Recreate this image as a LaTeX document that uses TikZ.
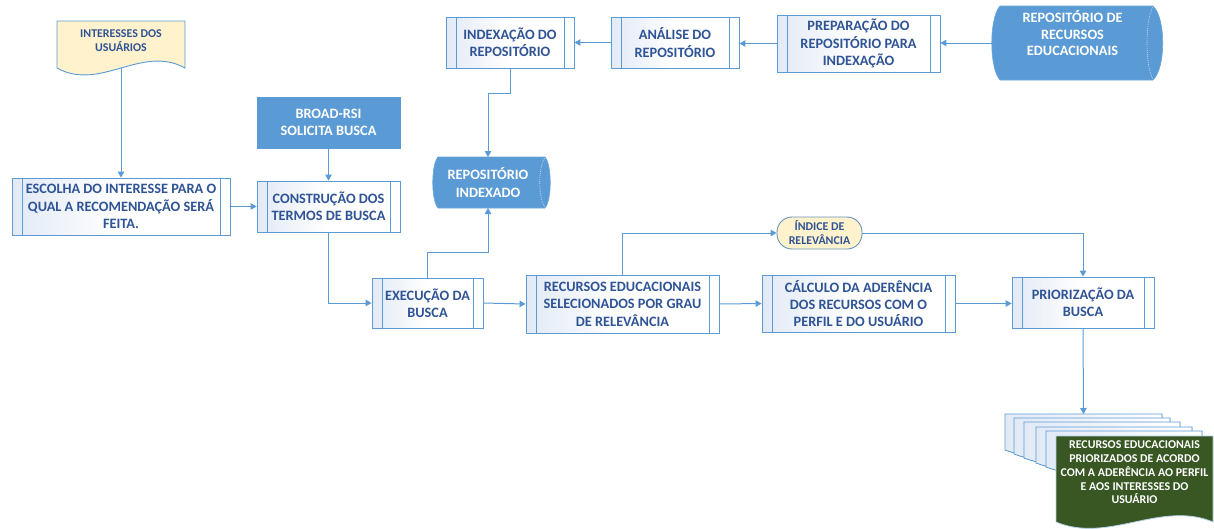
\documentclass[tikz,border=0pt]{standalone}
\usepackage{fontspec}
\setmainfont{Carlito}
\usetikzlibrary{arrows.meta}
\definecolor{bline}{RGB}{91,155,213}
\definecolor{tblue}{RGB}{47,84,150}
\definecolor{sblue}{RGB}{91,155,213}
\definecolor{pyellow}{RGB}{255,242,204}
\definecolor{dgreen}{RGB}{56,87,35}
\definecolor{tint}{RGB}{226,234,246}
\tikzset{
  bigtxt/.style={font=\fontsize{14.3}{17.4}\selectfont\bfseries, align=center},
  smalltxt/.style={font=\fontsize{11.9}{14}\selectfont\bfseries, align=center},
  proc/.style={bigtxt, text=tblue, draw=bline, line width=0.9pt,
    left color=tint, right color=white, middle color=white,
    inner sep=0pt,
    path picture={\draw[bline, line width=0.8pt]
      ([xshift=10pt]path picture bounding box.north west) -- ([xshift=10pt]path picture bounding box.south west)
      ([xshift=-10pt]path picture bounding box.north east) -- ([xshift=-10pt]path picture bounding box.south east);}},
  ghost/.style={inner sep=0pt, outer sep=0pt},
  conn/.style={draw=bline, line width=1pt, -{Triangle[length=6pt,width=6.5pt]}},
  docback/.style={draw=bline, line width=0.8pt, left color=tint, right color=white},
  cylfill/.style={fill=sblue, draw=sblue!90!white, line width=0.6pt},
  cylinner/.style={draw=white!65!sblue, line width=0.6pt, dash pattern=on 1pt off 1pt}
}
\begin{document}
\begin{tikzpicture}[x=1pt,y=-1pt]
\useasboundingbox (0,0) rectangle (1214,528);
\clip (0,0) rectangle (1214,528);

% Interesses dos usuarios (document)
\filldraw[fill=pyellow, draw=bline, line width=0.9pt] (57,21) -- (185,21) -- (185,68) .. controls (142,44) and (100,92) .. (57,68) -- cycle;
\node[ghost, minimum width=128pt, minimum height=47pt] (int) at (121,44.5) {};
\node[smalltxt, text=tblue] (intt) at (121,41) {INTERESSES DOS\\USUÁRIOS};

% process boxes
\node[proc, minimum width=218pt, minimum height=57pt] (esc) at (121,206.5) {ESCOLHA DO INTERESSE PARA O\\QUAL A RECOMENDAÇÃO SERÁ\\FEITA.};
\node[bigtxt, text=white, fill=sblue, draw=sblue, minimum width=143pt, minimum height=51pt, inner sep=0pt] (broad) at (328.5,122.5) {BROAD-RSI\\SOLICITA BUSCA};
\node[proc, minimum width=143pt, minimum height=51pt] (constr) at (328.5,206.5) {CONSTRUÇÃO DOS\\TERMOS DE BUSCA};
\node[proc, minimum width=111pt, minimum height=50pt] (exe) at (427.5,303) {EXECUÇÃO DA\\BUSCA};
\node[proc, minimum width=128pt, minimum height=51pt] (idx) at (510,42.5) {INDEXAÇÃO DO\\REPOSITÓRIO};
\node[proc, minimum width=128pt, minimum height=51pt] (ana) at (675,42.5) {ANÁLISE DO\\REPOSITÓRIO};
\node[proc, minimum width=163pt, minimum height=57pt] (prep) at (858.5,43.5) {PREPARAÇÃO DO\\REPOSITÓRIO PARA\\INDEXAÇÃO};
\node[proc, minimum width=193pt, minimum height=58pt] (rec) at (622.5,304) {RECURSOS EDUCACIONAIS\\SELECIONADOS POR GRAU\\DE RELEVÂNCIA};
\node[proc, minimum width=193pt, minimum height=57pt] (calc) at (858.5,303.5) {CÁLCULO DA ADERÊNCIA\\DOS RECURSOS COM O\\PERFIL E DO USUÁRIO};
\node[proc, minimum width=142pt, minimum height=51pt] (pri) at (1083,302.5) {PRIORIZAÇÃO DA\\BUSCA};

% Repositorio indexado (cylinder)
\path[cylfill] (438,157) -- (545,157) .. controls (552,165) and (552,200) .. (545,208) -- (438,208) .. controls (431,200) and (431,165) .. (438,157) -- cycle;
\draw[cylinner] (545,158) .. controls (538,166) and (538,199) .. (545,207);
\node[bigtxt, text=white, ghost, minimum width=110pt, minimum height=51pt] (ri) at (488,182.5) {REPOSITÓRIO\\INDEXADO};

% Repositorio de recursos educacionais (cylinder)
\path[cylfill] (1000,6) -- (1153,6) .. controls (1166,18) and (1166,68) .. (1153,80) -- (1000,80) .. controls (989,68) and (989,18) .. (1000,6) -- cycle;
\draw[cylinner] (1153,7) .. controls (1145,19) and (1145,67) .. (1153,79);
\node[ghost, minimum width=161pt, minimum height=74pt] (rr) at (1072.5,43) {};
\node[bigtxt, text=white, font=\fontsize{14.3}{16.5}\selectfont\bfseries] (rrt) at (1072.5,33.5) {REPOSITÓRIO DE\\RECURSOS\\EDUCACIONAIS};

% Indice de relevancia
\node[smalltxt, text=tblue, fill=pyellow, draw=bline!70!gray, line width=0.9pt, rounded corners=15pt, minimum width=85pt, minimum height=32pt, inner sep=0pt] (ind) at (819.5,233) {ÍNDICE DE\\RELEVÂNCIA};

% multiple documents
\filldraw[docback] (1005,414) -- (1162,414) -- (1162,450) .. controls (1110,430) and (1057,470) .. (1005,450) -- cycle;
\filldraw[docback] (1014,418) -- (1170,418) -- (1170,454) .. controls (1118,434) and (1066,474) .. (1014,454) -- cycle;
\filldraw[docback] (1024,422) -- (1180,422) -- (1180,458) .. controls (1128,438) and (1076,478) .. (1024,458) -- cycle;
\filldraw[docback] (1036,427) -- (1192,427) -- (1192,463) .. controls (1140,443) and (1088,483) .. (1036,463) -- cycle;
\filldraw[docback] (1046,431) -- (1202,431) -- (1202,467) .. controls (1150,447) and (1098,487) .. (1046,467) -- cycle;
\filldraw[fill=dgreen, draw=bline!45, line width=0.8pt] (1056,436) -- (1213,436) -- (1213,522) .. controls (1161,500) and (1108,544) .. (1056,522) -- cycle;
\node[ghost, minimum width=157pt, minimum height=36pt] (md) at (1083.5,432) {};
\node[text=white, align=center, font=\fontsize{11.9}{13.7}\selectfont\bfseries] (mdt) at (1134.5,472.5) {RECURSOS EDUCACIONAIS\\PRIORIZADOS DE ACORDO\\COM A ADERÊNCIA AO PERFIL\\E AOS INTERESSES DO\\USUÁRIO};

% connectors
\draw[conn] (int.south) -- (esc.north);
\draw[conn] (broad.south) -- (constr.north);
\draw[conn] (esc.east) -- (constr.west);
\draw[conn] (constr.south) |- (exe.west);
\draw[conn] (exe.north) -- ++(0,-25) -| (ri.south);
\draw[conn] (idx.south) -- ++(0,25) -| (ri.north);
\draw[conn] (ana.west) -- (idx.east);
\draw[conn] (prep.west) -- (prep.west -| ana.east);
\draw[conn] (rr.west) -- (rr.west -| prep.east);
\draw[conn] (rec.north) |- (ind.west);
\draw[conn] (ind.east) -| (pri.north);
\draw[conn] (exe.east) -- (rec.west);
\draw[conn] (rec.east) -- (calc.west);
\draw[conn] (calc.east) -- (calc.east -| pri.west);
\draw[conn] (pri.south) -- (md.north);
\end{tikzpicture}
\end{document}
